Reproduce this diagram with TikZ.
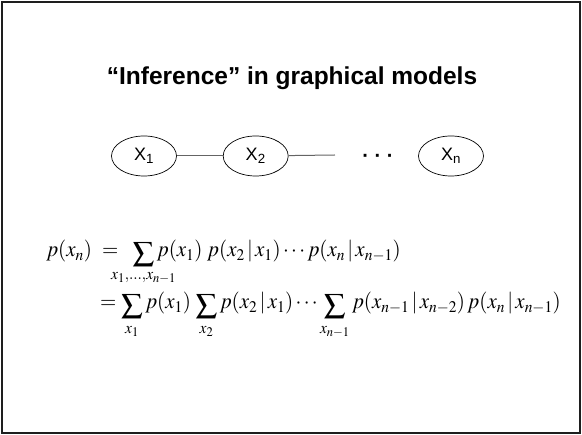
\documentclass[tikz,border=0pt]{standalone}
\usepackage{amsmath,mathtools}
\usepackage{graphicx}
\usepackage{mathptmx}
\usepackage[no-math]{fontspec}
\setsansfont{Liberation Sans}
\usetikzlibrary{positioning,shapes.geometric}
\definecolor{cFrame}{RGB}{30,30,30}
\definecolor{cEdge}{RGB}{100,100,100}
\newcommand{\Sum}[2][12pt]{\mathop{\raisebox{-4pt}{\scalebox{1.15}[1]{\fontsize{28}{28}\selectfont$\textstyle\sum$}}}\limits_{\rule{0pt}{#1}#2}}
\newcommand{\squeeze}[1]{\scalebox{0.95}[1]{#1}}

\begin{document}
\begin{tikzpicture}[x=1pt,y=-1pt,
    var/.style={draw,ellipse,line width=0.7pt,minimum width=65pt,minimum height=40pt,
      inner sep=0pt,font=\sffamily\fontsize{18}{20}\selectfont},
    edge/.style={draw=cEdge,line width=1pt},
    eq/.style={anchor=base west,inner sep=0pt,font=\fontsize{22}{26}\selectfont}]
  % Frame
  \useasboundingbox (0,0) rectangle (582,435);
  \draw[cFrame,line width=1.5pt] (2,2) rectangle (580,433);
  % Title
  \node[anchor=base,font=\sffamily\bfseries\fontsize{24.5}{28}\selectfont] (title) at (292,85)
    {``Inference'' in graphical models};
  % Chain
  \node[var] (x1) at (144,156) {X\textsubscript{1}};
  \node[var,right=46pt of x1] (x2) {X\textsubscript{2}};
  \node[var] (xn) at (451,156) {X\textsubscript{n}};
  \node[font=\sffamily\bfseries\fontsize{20}{22}\selectfont] (dots) at (378,158) {· · ·};
  \coordinate (x3) at (335,155);
  \draw[edge] (x1) -- (x2);
  \draw[edge] (x2) -- (x3);
  % Marginal
  \node[eq] (eq1) at (46,257)
    {\squeeze{$p(x_n)\hspace{6pt} = \hspace{10pt}\Sum[10pt]{\mathclap{x_1,\ldots,x_{n-1}}} p(x_1)\; p(x_2\,|\,x_1) \cdots p(x_n\,|\,x_{n-1})$}};
  \node[eq] (eq2) at (100,309)
    {\squeeze{$= \Sum{x_1} p(x_1)\, \Sum{x_2} p(x_2\,|\,x_1) \cdots \Sum{x_{n-1}} p(x_{n-1}\,|\,x_{n-2})\, p(x_n\,|\,x_{n-1})$}};
\end{tikzpicture}
\end{document}
